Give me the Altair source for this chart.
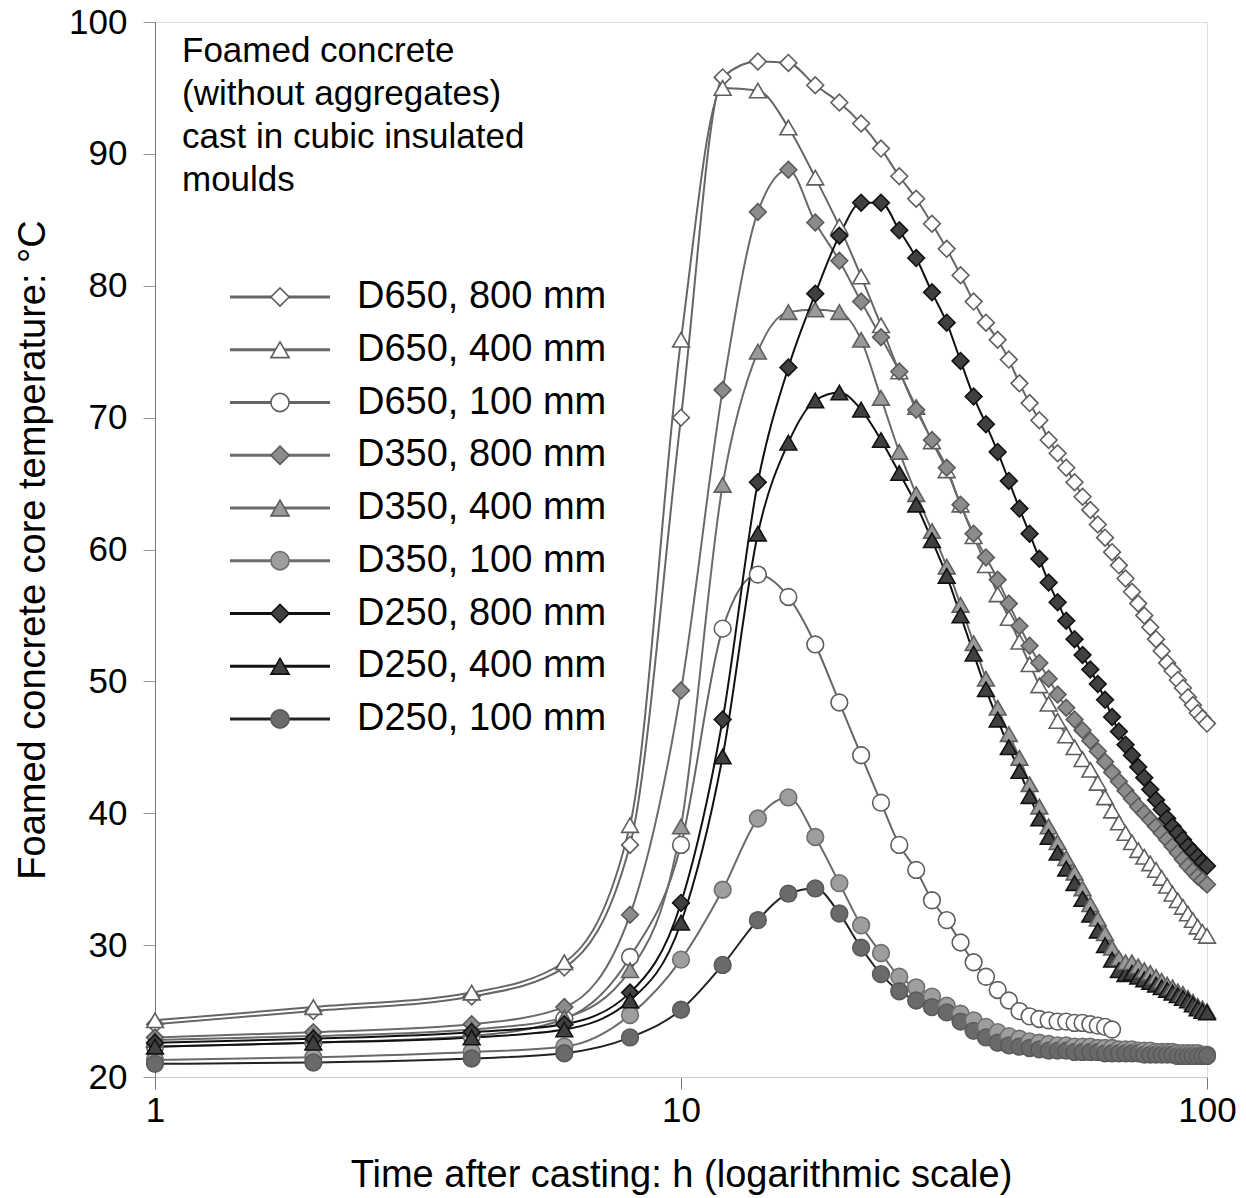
import altair as alt
import pandas as pd

# ---------------- data ----------------
times = [1, 2, 4, 6, 8, 10, 12, 14, 16, 18, 20, 22, 24, 26, 28, 30, 32, 34, 36, 38,
         40, 42, 44, 46, 48, 50, 52, 54, 56, 58, 60, 62, 64, 66, 68, 70, 72, 74, 76,
         78, 80, 82, 84, 86, 88, 90, 92, 94, 96, 98, 100]

series_names = ["D650, 800 mm", "D650, 400 mm", "D650, 100 mm",
                "D350, 800 mm", "D350, 400 mm", "D350, 100 mm",
                "D250, 800 mm", "D250, 400 mm", "D250, 100 mm"]

d650_800 = [24.0, 25.0, 26.1, 28.3, 37.6, 70.0,
            95.8, 97.0, 96.9, 95.2, 93.9, 92.3, 90.4, 88.3, 86.6, 84.7,
            82.8, 80.8, 78.8, 77.2, 75.9, 74.4, 72.6, 71.1, 69.8, 68.3,
            67.3, 66.2, 65.1, 64.0, 63.0, 61.9, 60.9, 59.8, 58.8, 57.8,
            56.8, 55.9, 55.0, 54.1, 53.2, 52.3, 51.4, 50.8, 50.1, 49.5,
            48.8, 48.2, 47.6, 47.2, 46.8]
d650_400 = [24.3, 25.3, 26.4, 28.7, 39.1, 75.9,
            95.0, 94.8, 92.0, 88.2, 84.5, 80.7, 77.0, 73.5, 70.8, 68.2,
            66.0, 63.4, 61.0, 58.8, 56.6, 54.8, 53.0, 51.3, 49.7, 48.3,
            47.0, 45.9, 45.0, 44.1, 43.3, 42.3, 41.2, 40.2, 39.3, 38.5,
            37.8, 37.2, 36.7, 36.2, 35.7, 35.1, 34.5, 33.9, 33.4, 32.9,
            32.4, 31.9, 31.4, 31.0, 30.7]
d650_100 = [22.3, 22.6, 23.1, 24.4, 29.1, 37.6,
            54.0, 58.1, 56.4, 52.8, 48.4, 44.4, 40.8, 37.6, 35.7, 33.4,
            31.9, 30.2, 28.7, 27.6, 26.6, 25.8, 25.0, 24.6, 24.4, 24.3,
            24.2, 24.2, 24.1, 24.1, 24.0, 23.9, 23.8, 23.6]
d350_800 = [23.0, 23.4, 24.0, 25.3, 32.3, 49.3,
            72.1, 85.6, 88.8, 84.8, 81.9, 78.8, 76.1, 73.5, 70.6, 68.3,
            66.2, 63.4, 61.2, 59.4, 57.7, 55.9, 54.2, 52.7, 51.4, 50.2,
            49.0, 48.0, 47.1, 46.3, 45.5, 44.7, 43.9, 43.1, 42.4, 41.7,
            41.1, 40.5, 40.0, 39.5, 39.0, 38.5, 38.0, 37.5, 37.0, 36.5,
            36.0, 35.6, 35.2, 34.9, 34.6]
d350_400 = [22.8, 23.1, 23.6, 24.5, 28.1, 39.0,
            64.9, 75.0, 78.0, 78.2, 78.0, 75.9, 71.5, 67.4, 64.2, 61.4,
            58.7, 55.8, 52.9, 50.2, 48.0, 46.0, 44.2, 42.2, 40.5, 39.0,
            37.8, 36.6, 35.5, 34.3, 33.1, 32.0, 30.9, 29.8, 29.0, 28.7,
            28.7, 28.4, 28.1, 27.9, 27.6, 27.3, 27.0, 26.8, 26.5, 26.3,
            26.0, 25.7, 25.4, 25.2, 25.0]
d350_100 = [21.3, 21.5, 21.9, 22.3, 24.7, 28.9,
            34.2, 39.6, 41.2, 38.2, 34.7, 31.5, 29.4, 27.6, 26.8, 26.1,
            25.4, 24.8, 24.3, 23.8, 23.4, 23.1, 22.9, 22.7, 22.6, 22.5,
            22.4, 22.4, 22.3, 22.3, 22.3, 22.2, 22.2, 22.2, 22.1, 22.1,
            22.1, 22.0, 22.0, 22.0, 21.9, 21.9, 21.9, 21.9, 21.8, 21.8,
            21.8, 21.8, 21.8, 21.7, 21.7]
d250_800 = [22.6, 22.9, 23.4, 24.0, 26.4, 33.2,
            47.1, 65.1, 73.8, 79.4, 83.8, 86.3, 86.3, 84.2, 82.1, 79.5,
            77.2, 74.3, 71.6, 69.5, 67.4, 65.2, 63.1, 61.2, 59.3, 57.5,
            56.0, 54.6, 53.2, 52.0, 50.9, 49.8, 48.6, 47.3, 46.2, 45.2,
            44.4, 43.5, 42.7, 41.8, 41.0, 40.3, 39.6, 39.0, 38.5, 38.0,
            37.5, 37.1, 36.7, 36.3, 36.0]
d250_400 = [22.3, 22.6, 23.0, 23.6, 25.8, 31.7,
            44.3, 61.2, 68.1, 71.3, 71.9, 70.6, 68.3, 65.8, 63.4, 60.7,
            58.0, 55.0, 52.1, 49.4, 47.1, 45.0, 43.2, 41.3, 39.6, 38.2,
            37.0, 35.8, 34.7, 33.5, 32.3, 31.1, 30.0, 28.9, 28.1, 27.8,
            27.9, 27.6, 27.4, 27.2, 27.0, 26.8, 26.6, 26.4, 26.2, 26.0,
            25.8, 25.5, 25.2, 25.0, 24.9]
d250_100 = [21.0, 21.1, 21.4, 21.8, 23.0, 25.1,
            28.5, 31.9, 33.9, 34.3, 32.4, 29.8, 27.8, 26.5, 25.8, 25.3,
            24.9, 24.2, 23.5, 23.0, 22.6, 22.4, 22.3, 22.2, 22.1, 22.0,
            22.0, 22.0, 21.9, 21.9, 21.9, 21.9, 21.8, 21.8, 21.8, 21.8,
            21.8, 21.8, 21.7, 21.7, 21.7, 21.7, 21.7, 21.7, 21.6, 21.6,
            21.6, 21.6, 21.6, 21.6, 21.6]

series_values = [d650_800, d650_400, d650_100, d350_800, d350_400, d350_100,
                 d250_800, d250_400, d250_100]

note_lines = ["Foamed concrete", "(without aggregates)",
              "cast in cubic insulated", "moulds"]

x_title = "Time after casting: h (logarithmic scale)"
y_title = "Foamed concrete core temperature: °C"

# ---------------- styles ----------------
shapes = ["diamond", "triangle-up", "circle"] * 3
fills = ["#ffffff", "#ffffff", "#ffffff",
         "#8c8c8c", "#9a9a9a", "#9e9e9e",
         "#404040", "#404040", "#6a6a6a"]
strokes = ["#5e5e5e", "#5e5e5e", "#5e5e5e",
           "#5a5a5a", "#5e5e5e", "#707070",
           "#111111", "#111111", "#5a5a5a"]
line_colors = ["#666666", "#666666", "#666666",
               "#6a6a6a", "#6a6a6a", "#6a6a6a",
               "#111111", "#111111", "#222222"]

FONT = "Liberation Sans"

rows = []
for name, vals in zip(series_names, series_values):
    for t, v in zip(times, vals):
        rows.append({"series": name, "t": t, "temp": v})
df = pd.DataFrame(rows)

legend_df = pd.DataFrame({"series": series_names})

shape_scale = alt.Scale(domain=series_names, range=shapes)
fill_scale = alt.Scale(domain=series_names, range=fills)
stroke_scale = alt.Scale(domain=series_names, range=strokes)
line_scale = alt.Scale(domain=series_names, range=line_colors)

x_enc = alt.X("t:Q",
              scale=alt.Scale(type="log", domain=[1, 100]),
              axis=alt.Axis(values=[1, 10, 100], format="d", title=x_title,
                            grid=False, labelFontSize=35, titleFontSize=38,
                            labelPadding=4, titlePadding=28, tickSize=12,
                            labelFlush=False,
                            domainColor="#c8c8c8", tickColor="#777777",
                            labelColor="#000000", titleColor="#000000",
                            labelFont=FONT, titleFont=FONT,
                            titleFontWeight="normal"))
y_enc = alt.Y("temp:Q",
              scale=alt.Scale(domain=[20, 100], nice=False, zero=False),
              axis=alt.Axis(values=[20, 30, 40, 50, 60, 70, 80, 90, 100],
                            title=y_title, grid=False, labelFontSize=35,
                            titleFontSize=38, labelPadding=16, titlePadding=16,
                            tickSize=12, labelFlush=False,
                            domainColor="#777777",
                            tickColor="#999999", labelColor="#000000",
                            titleColor="#000000", labelFont=FONT,
                            titleFont=FONT, titleFontWeight="normal"))

base = alt.Chart(df)

lines = base.mark_line(interpolate="monotone", strokeWidth=2).encode(
    x=x_enc, y=y_enc,
    color=alt.Color("series:N", scale=line_scale, legend=None),
    detail="series:N",
)

points = base.mark_point(opacity=1, fillOpacity=1, strokeWidth=1.6, size=280).encode(
    x=x_enc, y=y_enc,
    shape=alt.Shape("series:N", scale=shape_scale, legend=None),
    fill=alt.Fill("series:N", scale=fill_scale, legend=None),
    stroke=alt.Stroke("series:N", scale=stroke_scale, legend=None),
    order=alt.Order("t:Q"),
)

main = alt.layer(lines, points)

leg_y = alt.Y("series:N", scale=alt.Scale(type="point", domain=series_names,
                                          range=[275, 697], padding=0), axis=None)
leg_base = alt.Chart(legend_df)
leg_rule = leg_base.mark_rule(strokeWidth=3).encode(
    x=alt.value(75), x2=alt.value(175), y=leg_y,
    color=alt.Color("series:N", scale=line_scale, legend=None),
)
leg_pts = leg_base.mark_point(opacity=1, fillOpacity=1, strokeWidth=1.6, size=330).encode(
    x=alt.value(125), y=leg_y,
    shape=alt.Shape("series:N", scale=shape_scale, legend=None),
    fill=alt.Fill("series:N", scale=fill_scale, legend=None),
    stroke=alt.Stroke("series:N", scale=stroke_scale, legend=None),
)
leg_text = leg_base.mark_text(align="left", baseline="middle", fontSize=38,
                              font=FONT, color="#000000").encode(
    x=alt.value(202), y=leg_y, text="series:N",
)
legend = alt.layer(leg_rule, leg_pts, leg_text)

note = alt.Chart(pd.DataFrame({"note": ["\n".join(note_lines)]})).mark_text(
    align="left", baseline="top", fontSize=35, font=FONT, color="#000000",
    lineBreak="\n", lineHeight=43,
).encode(x=alt.value(27), y=alt.value(12), text="note:N")

chart = alt.layer(main, legend, note).resolve_scale(y="independent").properties(
    width=1052, height=1055,
    autosize=alt.AutoSizeParams(type="none"),
    padding={"left": 155, "top": 22, "right": 39, "bottom": 121},
).configure_view(stroke=None).configure(background="#ffffff")

chart.save("out.html", embed_options={"renderer": "svg", "actions": False})
